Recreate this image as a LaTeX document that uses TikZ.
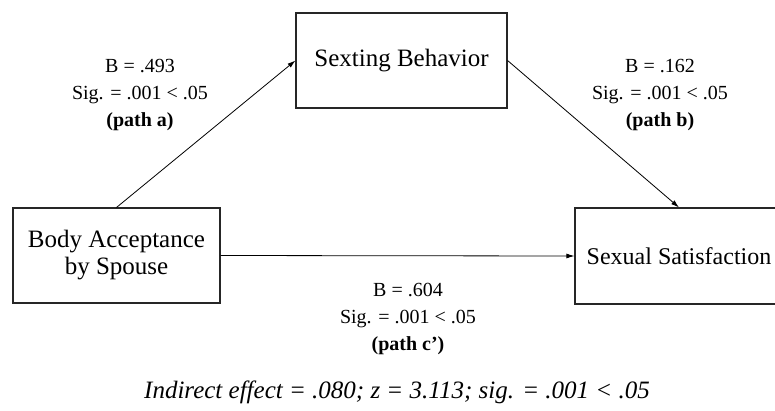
\documentclass[tikz,border=0pt]{standalone}
\usepackage{fontspec}
\setmainfont{Liberation Serif}
\usetikzlibrary{arrows.meta}
\begin{document}
\begin{tikzpicture}[x=1pt,y=-1pt,
  box/.style={draw=black!85,line width=1.1pt,rectangle,inner sep=0pt,align=center,
    font=\fontsize{25}{27}\selectfont},
  lab/.style={align=center,inner sep=0pt,font=\fontsize{20}{27}\selectfont},
  conn/.style={line width=0.8pt,-{Latex[length=8pt,width=5pt]}}]
\useasboundingbox (0,0) rectangle (775,410);
\node[box,minimum width=211pt,minimum height=95pt] (sext) at (401.5,60.5) {Sexting Behavior};
\node[box,minimum width=207pt,minimum height=95pt] (body) at (116.5,255.5) {Body Acceptance\\by Spouse};
\node[box,minimum width=208pt,minimum height=96pt,font=\fontsize{24}{27}\selectfont] (sat) at (679,256) {Sexual Satisfaction};
\draw[conn] (body.north) -- (sext.west);
\draw[conn] (sext.east) -- (sat.north);
\draw[conn] (body.east) -- (sat.west);
\node[lab] (la) at (140,95) {B = .493\\Sig. = .001 < .05\\\textbf{(path a)}};
\node[lab] (lb) at (660,95) {B = .162\\Sig. = .001 < .05\\\textbf{(path b)}};
\node[lab] (lc) at (408,319) {B = .604\\Sig. = .001 < .05\\\textbf{(path c’)}};
\node[lab,font=\fontsize{25}{27}\selectfont] (note) at (397,392) {\textit{Indirect effect = .080; z = 3.113; sig. = .001 < .05}};
\end{tikzpicture}
\end{document}
